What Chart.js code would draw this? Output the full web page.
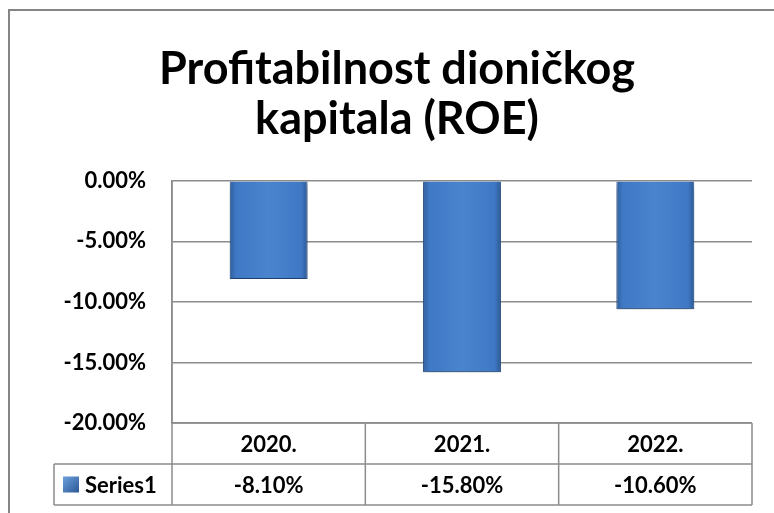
<!DOCTYPE html>
<html>
<head>
<meta charset="utf-8">
<script src="https://cdn.jsdelivr.net/npm/chart.js@4"></script>
<style>
  html, body { margin: 0; padding: 0; background: #fff; }
  #wrap { width: 774px; height: 513px; }
</style>
</head>
<body>
<div id="wrap"><canvas id="grafico" width="774" height="513"></canvas></div>
<script>
const naslov = ["Profitabilnost dioničkog", "kapitala (ROE)"];
const godine = ["2020.", "2021.", "2022."];
const roe = [-8.1, -15.8, -10.6];
const nazivSerije = "Series1";
const yMin = -20;
const yMax = 0;
const yKorak = 5;

const FONT = "Lato, 'Open Sans', sans-serif";
const SIVA = "#8c8c8c";
const UDIO_STUPCA = 0.403;
const LIJEVI_RUB = 42;

function postotak(v) {
  return v.toFixed(2) + "%";
}

function bojaStupca(context) {
  const chart = context.chart;
  const x = chart.scales.x;
  const a = chart.chartArea;
  if (!a || !x || context.dataIndex === undefined) return "#4a84cf";
  const cx = x.getPixelForValue(context.dataIndex);
  const w = ((a.right - a.left) / godine.length) * UDIO_STUPCA;
  if (!isFinite(cx) || !isFinite(w)) return "#4a84cf";
  const g = chart.ctx.createLinearGradient(cx - w / 2, 0, cx + w / 2, 0);
  g.addColorStop(0, "#2f5f9e");
  g.addColorStop(0.08, "#3f78c4");
  g.addColorStop(0.5, "#4a84cf");
  g.addColorStop(0.92, "#3f78c4");
  g.addColorStop(1, "#2b5893");
  return g;
}

// sjena ispod stupaca
const sjena = {
  id: "sjena",
  beforeDatasetDraw(chart) {
    const c = chart.ctx;
    c.save();
    c.shadowColor = "rgba(0,0,0,0.35)";
    c.shadowBlur = 6;
    c.shadowOffsetY = 4;
  },
  afterDatasetDraw(chart) {
    chart.ctx.restore();
  },
};

// okvir grafikona i tablica podataka
const tablica = {
  id: "tablica",
  beforeDraw(chart) {
    const c = chart.ctx;
    c.save();
    c.strokeStyle = "#858585";
    c.lineWidth = 2;
    c.beginPath();
    c.moveTo(9, 513);
    c.lineTo(9, 10);
    c.lineTo(774, 10);
    c.stroke();
    c.restore();
  },
  afterDraw(chart) {
    const c = chart.ctx;
    const a = chart.chartArea;
    const x = chart.scales.x;
    const red1 = a.bottom + 41;
    const red2 = a.bottom + 82;
    const lijevo = 54;
    const sirina = (a.right - a.left) / godine.length;

    c.save();
    c.strokeStyle = SIVA;
    c.lineWidth = 1.5;
    c.beginPath();
    // vodoravne linije
    c.moveTo(a.left, a.bottom);
    c.lineTo(a.right, a.bottom);
    c.moveTo(lijevo, red1);
    c.lineTo(a.right, red1);
    c.moveTo(lijevo, red2);
    c.lineTo(a.right, red2);
    // okomite linije
    c.moveTo(lijevo, red1);
    c.lineTo(lijevo, red2);
    c.moveTo(a.left, a.top);
    c.lineTo(a.left, red2);
    for (let i = 1; i <= godine.length; i++) {
      const xx = a.left + sirina * i;
      c.moveTo(xx, a.bottom);
      c.lineTo(xx, red2);
    }
    c.stroke();

    c.fillStyle = "#000";
    c.font = "bold 22px " + FONT;
    c.textAlign = "center";
    c.textBaseline = "middle";
    godine.forEach((g, i) => {
      const cx = x.getPixelForValue(i);
      c.fillText(g, cx, (a.bottom + red1) / 2 + 1);
      c.fillText(postotak(roe[i]), cx, (red1 + red2) / 2 + 1);
    });

    // legenda u tablici
    const ky = (red1 + red2) / 2;
    const kg = c.createLinearGradient(63, ky - 8, 79, ky + 8);
    kg.addColorStop(0, "#6da0e0");
    kg.addColorStop(1, "#2b5893");
    c.fillStyle = kg;
    c.fillRect(63, ky - 8, 16, 16);
    c.fillStyle = "#000";
    c.textAlign = "left";
    c.fillText(nazivSerije, 85, ky + 1);
    c.restore();
  },
};

const ctx = document.getElementById("grafico").getContext("2d");
new Chart(ctx, {
  type: "bar",
  data: {
    labels: godine,
    datasets: [
      {
        label: nazivSerije,
        data: roe,
        backgroundColor: bojaStupca,
        borderColor: "#2d5a94",
        borderWidth: 1,
        barPercentage: UDIO_STUPCA,
        categoryPercentage: 1,
      },
    ],
  },
  options: {
    responsive: false,
    animation: false,
    layout: { padding: { top: 0, right: 22, bottom: 90, left: LIJEVI_RUB } },
    plugins: {
      legend: { display: false },
      tooltip: { enabled: false },
      title: {
        display: true,
        text: naslov,
        color: "#000",
        font: { family: FONT, size: 45, weight: "bold", lineHeight: 1.12 },
        padding: { top: 44, bottom: 36 },
      },
    },
    scales: {
      x: {
        display: false,
      },
      y: {
        min: yMin,
        max: yMax,
        afterFit: (scale) => {
          scale.width = 172 - LIJEVI_RUB;
        },
        border: { display: true, color: SIVA, width: 1.5 },
        grid: { color: SIVA, lineWidth: 1.5, drawTicks: false },
        ticks: {
          stepSize: yKorak,
          padding: 26,
          color: "#000",
          font: { family: FONT, size: 22, weight: "bold" },
          callback: (v) => postotak(v),
        },
      },
    },
  },
  plugins: [sjena, tablica],
});
</script>
</body>
</html>
